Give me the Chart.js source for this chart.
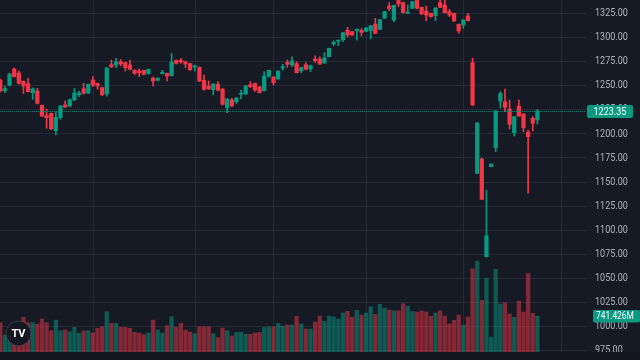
<!DOCTYPE html>
<html><head><meta charset="utf-8">
<script src="https://cdn.jsdelivr.net/npm/chart.js@4.4.1/dist/chart.umd.min.js"></script>
<style>html,body{margin:0;padding:0;background:#161a25;overflow:hidden}#wrap{width:640px;height:360px}</style>
</head><body><div id="wrap"><canvas id="c" width="640" height="360"></canvas></div>
<script>
// Daily candles (index 0 = first visible session)
const opens=[1255.4,1244.3,1250.2,1266.9,1262.7,1254.1,1251.6,1242.2,1244.0,1229.2,1218.4,1220.8,1202.8,1216.3,1229.5,1228.4,1234.7,1240.2,1246.4,1241.9,
1255.4,1252.0,1247.4,1240.9,1271.3,1271.0,1274.4,1273.4,1271.0,1265.5,1264.8,1265.5,1262.0,1257.5,1255.1,1262.0,1262.4,1259.9,1275.9,1275.9,
1274.1,1272.4,1268.9,1268.6,1255.1,1249.2,1245.4,1251.0,1246.1,1226.7,1234.7,1232.9,1240.6,1240.9,1250.5,1252.0,1248.2,1244.3,1259.3,1258.5,
1256.5,1267.9,1273.8,1271.0,1272.4,1264.8,1271.3,1266.9,1277.2,1277.2,1273.1,1279.6,1293.1,1295.6,1297.3,1307.0,1305.6,1306.6,1307.0,1306.0,
1306.6,1313.6,1308.1,1319.5,1332.3,1317.7,1338.0,1335.7,1324.7,1329.9,1338.2,1330.9,1327.1,1324.7,1322.2,1335.7,1333.3,1326.4,1324.7,1313.3,
1312.5,1321.9,1273.4,1158.5,1173.4,1072.0,1165.4,1185.1,1233.6,1232.9,1225.3,1200.7,1228.4,1220.1,1201.1,1215.7,1213.9];
const highs=[1256.5,1249.2,1262.7,1267.9,1264.8,1254.4,1257.2,1247.1,1246.8,1229.5,1225.3,1221.2,1222.5,1229.0,1233.9,1235.7,1246.8,1244.0,1252.0,1251.3,
1258.9,1252.3,1248.2,1268.4,1276.2,1278.0,1276.9,1274.1,1276.2,1266.3,1266.9,1265.8,1266.9,1258.5,1258.0,1265.5,1262.7,1283.2,1276.2,1278.0,
1275.2,1273.1,1271.0,1269.2,1260.6,1254.4,1251.8,1253.7,1246.6,1236.2,1236.4,1237.3,1245.0,1249.7,1253.7,1252.3,1248.7,1264.0,1265.8,1259.1,
1265.3,1271.7,1276.2,1279.6,1274.4,1268.9,1273.4,1271.0,1280.4,1279.6,1283.8,1288.7,1296.2,1297.0,1305.0,1310.2,1306.0,1308.4,1308.7,1310.0,
1312.2,1319.5,1318.5,1326.8,1335.7,1333.3,1340.0,1336.4,1333.3,1337.2,1339.5,1331.2,1332.3,1325.0,1330.7,1339.5,1339.0,1328.8,1325.0,1313.6,
1318.3,1324.7,1278.0,1211.3,1174.4,1141.2,1168.2,1223.8,1243.3,1246.1,1234.7,1217.7,1234.7,1220.6,1203.5,1217.3,1225.0];
const lows=[1243.0,1242.2,1249.2,1258.5,1251.3,1241.6,1243.0,1235.4,1230.5,1217.5,1205.3,1204.0,1198.3,1214.6,1226.9,1227.9,1234.1,1238.1,1240.9,1241.4,
1248.5,1245.8,1239.3,1238.8,1268.4,1268.2,1270.0,1264.8,1265.8,1261.1,1258.9,1260.6,1261.7,1249.2,1254.4,1261.7,1254.4,1259.6,1272.0,1272.8,
1268.2,1265.3,1264.8,1253.7,1245.0,1245.6,1239.9,1244.0,1229.5,1221.5,1227.9,1231.2,1235.7,1240.4,1247.6,1243.5,1241.9,1244.0,1258.5,1250.2,
1256.0,1265.8,1268.6,1269.2,1262.7,1263.0,1265.8,1264.0,1273.8,1271.5,1272.6,1279.3,1291.0,1291.0,1295.2,1300.1,1301.6,1297.0,1301.1,1305.6,
1298.0,1303.5,1307.7,1319.1,1327.4,1316.0,1331.5,1325.0,1324.5,1329.5,1329.2,1323.4,1317.0,1320.8,1317.0,1330.5,1325.0,1321.2,1316.2,1303.9,
1309.1,1316.7,1228.9,1158.3,1131.3,1071.6,1165.4,1181.0,1226.4,1222.5,1204.5,1197.3,1217.5,1201.7,1137.8,1202.5,1209.7];
const closes=[1244.0,1246.4,1261.7,1258.9,1252.0,1249.2,1243.3,1246.4,1231.2,1218.0,1216.3,1204.5,1216.7,1228.4,1227.4,1235.0,1241.9,1241.9,1241.6,1251.0,
1250.2,1249.2,1239.9,1267.9,1268.9,1274.4,1272.0,1268.2,1266.5,1262.4,1263.0,1261.3,1266.5,1254.4,1257.2,1263.4,1259.6,1274.1,1272.8,1274.1,
1272.0,1266.1,1270.3,1254.4,1245.8,1246.1,1251.3,1244.7,1230.2,1235.7,1228.4,1236.7,1241.6,1249.2,1248.5,1245.0,1242.2,1259.6,1265.5,1252.6,
1264.5,1269.2,1271.7,1275.2,1263.0,1268.2,1266.5,1270.3,1275.5,1272.0,1278.3,1288.3,1294.6,1296.7,1304.5,1302.2,1302.2,1308.1,1305.0,1309.4,
1311.8,1303.9,1318.0,1326.4,1329.5,1333.0,1334.3,1325.3,1326.0,1336.7,1329.9,1324.0,1322.9,1321.2,1330.2,1330.9,1325.3,1322.9,1316.7,1306.3,
1317.7,1317.0,1229.5,1210.8,1131.5,1093.7,1168.2,1223.2,1241.6,1227.1,1209.4,1217.3,1218.0,1205.9,1196.5,1210.5,1223.35];
// volume in millions of shares
const volumes=[604,350,453,494,556,715,604,604,571,680,604,439,659,439,453,418,509,385,433,439,
398,488,521,830,591,591,509,509,488,406,385,356,391,659,453,391,542,727,509,591,
453,412,377,521,521,521,377,295,494,439,330,406,406,365,365,391,406,509,521,521,
591,536,556,556,735,577,474,474,618,742,632,742,727,680,803,838,715,859,762,803,
933,777,983,906,865,851,851,995,948,838,824,845,824,735,803,845,742,577,653,762,
556,721,1716,1875,1065,1524,303,1704,989,1016,783,715,1051,824,1621,797,741.426];
const timeTickIndex=[20,42,59,79,100,121];
const timeTickLabels=['Tháng 12','2025','Tháng 2','Tháng 3','Tháng 4','Tháng 5'];
const priceTicks=[975,1000,1025,1050,1075,1100,1125,1150,1175,1200,1225,1250,1275,1300,1325];
const lastPriceLabel='1223.35';
const lastVolumeLabel='741.426M';

const UP='#089981', DOWN='#f23645';
const isUp=closes.map((c,i)=>c>=opens[i]);
const bodyData=opens.map((o,i)=>({x:i,y:[o,closes[i]]}));
const wickData=lows.map((l,i)=>({x:i,y:[l,highs[i]]}));
const volData=volumes.map((v,i)=>({x:i,y:v}));
const candleColors=isUp.map(u=>u?UP:DOWN);
const volColors=isUp.map(u=>u?'rgba(8,153,129,0.5)':'rgba(242,54,69,0.5)');
const FONT='Roboto, "Liberation Sans", sans-serif';

function box(ctx,x,y,w,h,r,color){ctx.fillStyle=color;ctx.beginPath();ctx.moveTo(x+r,y);ctx.lineTo(x+w-r,y);ctx.quadraticCurveTo(x+w,y,x+w,y+r);ctx.lineTo(x+w,y+h-r);ctx.quadraticCurveTo(x+w,y+h,x+w-r,y+h);ctx.lineTo(x+r,y+h);ctx.quadraticCurveTo(x,y+h,x,y+h-r);ctx.lineTo(x,y+r);ctx.quadraticCurveTo(x,y,x+r,y);ctx.fill();}
function narrowText(ctx,t,x,y,sx){ctx.save();ctx.translate(x,y);ctx.scale(sx,1);ctx.fillText(t,0,0);ctx.restore();}

const tvPlugin={id:'tv',
beforeDraw(chart){
  const {ctx,chartArea:a,scales:{x,y}}=chart;
  ctx.save();
  ctx.fillStyle='#161a25';ctx.fillRect(0,0,chart.width,chart.height);
  ctx.strokeStyle='#252935';ctx.lineWidth=1;
  priceTicks.forEach(p=>{const py=Math.round(y.getPixelForValue(p))+0.5;ctx.beginPath();ctx.moveTo(a.left,py);ctx.lineTo(a.right,py);ctx.stroke();});
  timeTickIndex.forEach(i=>{const px=Math.round(x.getPixelForValue(i))+0.5;ctx.beginPath();ctx.moveTo(px,a.top);ctx.lineTo(px,a.bottom);ctx.stroke();});
  ctx.restore();
},
afterDatasetsDraw(chart){
  const {ctx,chartArea:a,scales:{x,y,vol}}=chart;
  ctx.save();
  const ly=Math.round(y.getPixelForValue(closes[closes.length-1]))+0.5;
  ctx.strokeStyle='rgba(8,153,129,0.8)';ctx.setLineDash([1,1]);ctx.lineWidth=1;
  ctx.beginPath();ctx.moveTo(a.left,ly);ctx.lineTo(a.right,ly);ctx.stroke();ctx.setLineDash([]);
  ctx.save();ctx.beginPath();ctx.rect(a.right,0,chart.width-a.right,a.bottom);ctx.clip();
  ctx.font='10.5px '+FONT;ctx.fillStyle='#b2b5be';ctx.textAlign='left';ctx.textBaseline='middle';
  priceTicks.forEach(p=>{narrowText(ctx,p.toFixed(2),a.right+9,y.getPixelForValue(p)+0.5,0.86);});
  box(ctx,a.right+1,ly-6.5,46,13,2,UP);
  ctx.fillStyle='#ffffff';narrowText(ctx,lastPriceLabel,a.right+7.5,ly+0.5,0.86);
  const vy=vol.getPixelForValue(volumes[volumes.length-1]);
  box(ctx,a.right+7,vy-6,47,12.5,2,UP);
  ctx.fillStyle='#ffffff';narrowText(ctx,lastVolumeLabel,a.right+10,vy+0.5,0.8);
  ctx.restore();
  ctx.fillStyle='#131620';ctx.fillRect(0,a.bottom,chart.width,chart.height-a.bottom);
  ctx.font='11px '+FONT;ctx.fillStyle='#b2b5be';ctx.textAlign='center';ctx.textBaseline='alphabetic';
  timeTickIndex.forEach((i,k)=>{ctx.fillText(timeTickLabels[k],x.getPixelForValue(i),369);});
  ctx.beginPath();ctx.arc(18.5,333.5,12.5,0,Math.PI*2);ctx.fillStyle='#151822';ctx.fill();
  ctx.strokeStyle='rgba(120,123,134,0.35)';ctx.lineWidth=1;ctx.stroke();
  ctx.fillStyle='#ffffff';ctx.font='bold 11px '+FONT;ctx.textAlign='center';ctx.textBaseline='middle';
  ctx.fillText('TV',18.5,334);
  ctx.restore();
}};

new Chart(document.getElementById('c').getContext('2d'),{
  type:'bar',
  data:{datasets:[
    {data:bodyData,backgroundColor:candleColors,barThickness:3.6,minBarLength:1,grouped:false,yAxisID:'y',borderWidth:0},
    {data:wickData,backgroundColor:candleColors,barThickness:1,minBarLength:1,grouped:false,yAxisID:'y',borderWidth:0},
    {data:volData,backgroundColor:volColors,barThickness:3.6,grouped:false,yAxisID:'vol',borderWidth:0}
  ]},
  options:{
    responsive:false,animation:false,devicePixelRatio:1,
    layout:{padding:{left:0,right:54,top:0,bottom:8}},
    plugins:{legend:{display:false},tooltip:{enabled:false}},
    scales:{
      x:{type:'linear',offset:false,min:-0.065,max:126.5,display:false},
      y:{type:'linear',min:973.0,max:1338.5,display:false},
      vol:{type:'linear',min:0,max:7260,display:false}
    }
  },
  plugins:[tvPlugin]
});
</script></body></html>
